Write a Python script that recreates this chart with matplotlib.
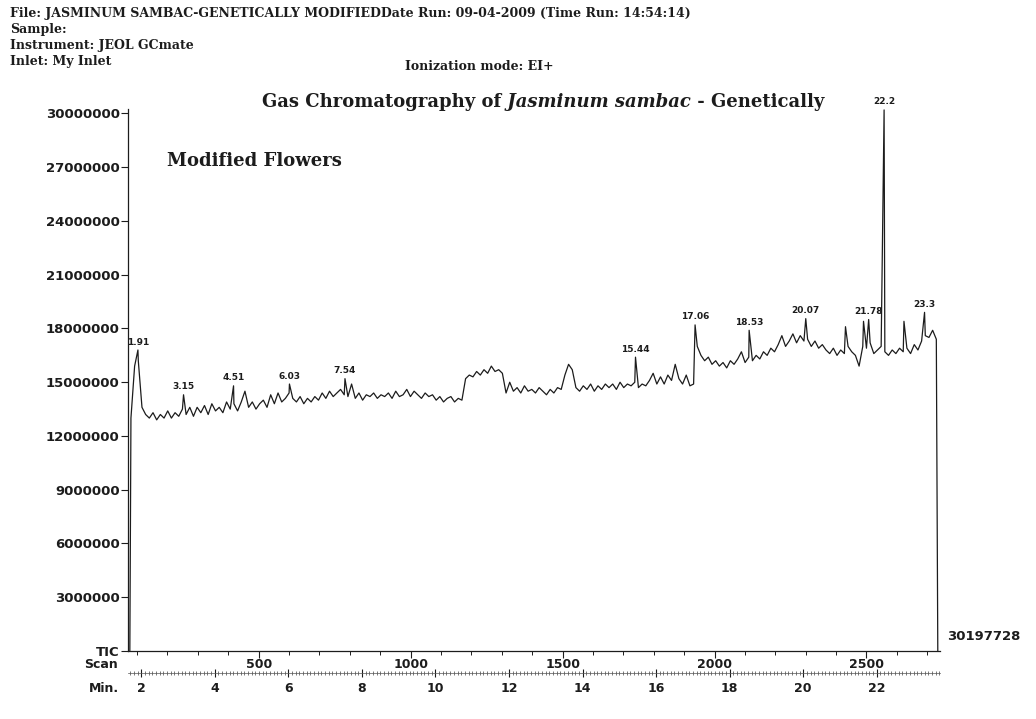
import numpy as np
import matplotlib
matplotlib.use("Agg")
import matplotlib.pyplot as plt
from matplotlib.ticker import FixedLocator, MultipleLocator, NullFormatter

# TIC trace, one reading every 0.1 min (counts in millions)
rt_grid = np.round(1.72 + 0.1 * np.arange(220), 2)
tic_grid = [
    13.0, 15.9, 16.2, 13.6, 13.2, 13.0, 13.3, 12.9, 13.2, 13.0,
    13.4, 13.0, 13.3, 13.1, 13.5, 13.2, 13.6, 13.1, 13.6, 13.3,
    13.7, 13.2, 13.8, 13.4, 13.6, 13.3, 13.9, 13.5, 13.8, 13.4,
    13.9, 14.5, 13.6, 13.9, 13.5, 13.8, 14.0, 13.6, 14.3, 13.8,
    14.4, 13.9, 14.1, 14.4, 14.1, 13.9, 14.2, 13.8, 14.1, 13.9,
    14.2, 14.0, 14.4, 14.1, 14.5, 14.2, 14.4, 14.6, 14.3, 14.2,
    14.9, 14.1, 14.4, 14.0, 14.3, 14.2, 14.4, 14.1, 14.3, 14.2,
    14.4, 14.1, 14.5, 14.2, 14.3, 14.6, 14.2, 14.5, 14.3, 14.1,
    14.4, 14.2, 14.3, 14.0, 14.2, 13.9, 14.1, 14.2, 13.9, 14.1,
    14.0, 15.2, 15.4, 15.3, 15.6, 15.4, 15.7, 15.5, 15.9, 15.6,
    15.7, 15.5, 14.4, 15.0, 14.5, 14.7, 14.4, 14.8, 14.5, 14.6,
    14.4, 14.7, 14.5, 14.3, 14.6, 14.4, 14.7, 14.6, 15.4, 16.0,
    15.7, 14.7, 14.5, 14.8, 14.6, 14.9, 14.5, 14.8, 14.6, 14.9,
    14.7, 14.9, 14.6, 15.0, 14.7, 14.9, 14.8, 15.0, 14.7, 14.9,
    14.8, 15.1, 15.5, 14.9, 15.3, 14.9, 15.4, 15.1, 16.0, 15.2,
    14.9, 15.4, 14.8, 14.9, 17.0, 16.5, 16.2, 16.4, 16.0, 16.2,
    15.9, 16.1, 15.8, 16.2, 16.0, 16.3, 16.7, 16.1, 16.4, 16.2,
    16.5, 16.3, 16.7, 16.5, 16.9, 16.7, 17.1, 17.6, 17.0, 17.3,
    17.7, 17.2, 17.6, 17.3, 17.4, 17.0, 17.3, 16.9, 17.1, 16.8,
    16.6, 16.9, 16.5, 16.8, 16.6, 17.0, 16.7, 16.5, 15.9, 17.0,
    16.9, 17.2, 16.6, 16.8, 17.0, 16.7, 16.5, 16.8, 16.6, 16.9,
    16.7, 16.9, 16.6, 17.1, 16.8, 17.3, 17.6, 17.5, 17.9, 17.4,
]

# labelled peaks: retention time (min) and apex (millions)
peak_rt = [1.91, 3.15, 4.51, 6.03, 7.54, 15.44, 17.06, 18.53, 20.07, 21.78, 22.2, 23.3]
peak_tic = [16.8, 14.3, 14.8, 14.9, 15.2, 16.4, 18.2, 17.9, 18.55, 18.5, 30.197728, 18.9]

# unlabelled spikes
spike_rt = [21.15, 21.64, 22.74]
spike_tic = [18.1, 18.4, 18.4]

# trace starts and ends at zero
edge_rt = [1.69, 23.66]
edge_tic = [0.0, 0.0]

max_tic = 30197728
y_ticks = [0, 3000000, 6000000, 9000000, 12000000, 15000000,
           18000000, 21000000, 24000000, 27000000, 30000000]
scan_labels = [500, 1000, 1500, 2000, 2500]
min_labels = [2, 4, 6, 8, 10, 12, 14, 16, 18, 20, 22]
SCANS_PER_MIN = 121.0
SCAN_ZERO_MIN = 1.06

W, H = 1036, 719
SERIF = "DejaVu Serif"
SANS = "DejaVu Sans"
INK = "#1c1c1c"


def scan_to_min(s):
    return SCAN_ZERO_MIN + np.asarray(s, dtype=float) / SCANS_PER_MIN


def fx(px):
    return px / W


def fy(py):
    return 1 - py / H


rt = np.concatenate([rt_grid, peak_rt, spike_rt, edge_rt])
tic = np.concatenate([tic_grid, peak_tic, spike_tic, edge_tic]) * 1e6
order = np.argsort(rt)
rt, tic = rt[order], tic[order]

fig = plt.figure(figsize=(W / 100, H / 100), dpi=100)
ax = fig.add_axes([fx(128), fy(651), fx(940) - fx(128), (651 - 109) / H])

ax.plot(rt, tic, color=INK, lw=0.9, clip_on=False)
ax.set_xlim(1.64, 23.72)
ax.set_ylim(0, 30.25e6)

for side in ("top", "right"):
    ax.spines[side].set_visible(False)
for side in ("left", "bottom"):
    ax.spines[side].set_linewidth(0.9)
    ax.spines[side].set_color(INK)

# intensity axis
ax.set_yticks(y_ticks)
ax.set_yticklabels(["TIC"] + [str(v) for v in y_ticks[1:]])
ax.tick_params(axis="y", length=5, width=0.8, pad=1, labelsize=9.5,
               colors=INK)
for lab in ax.get_yticklabels():
    lab.set_fontweight("bold")
    lab.set_family(SANS)

# scan axis on the bottom spine
ax.xaxis.set_major_locator(FixedLocator(scan_to_min(scan_labels)))
ax.set_xticklabels([str(s) for s in scan_labels])
ax.xaxis.set_minor_locator(FixedLocator(scan_to_min(np.arange(100, 2800, 100))))
ax.tick_params(axis="x", which="major", length=5, width=0.8, pad=0,
               labelsize=9, colors=INK)
ax.tick_params(axis="x", which="minor", length=3, width=0.7, colors=INK)
for lab in ax.get_xticklabels():
    lab.set_fontweight("bold")

# minute ruler below the scan axis
axm = ax.twiny()
axm.set_xlim(ax.get_xlim())
axm.xaxis.set_ticks_position("bottom")
axm.xaxis.set_label_position("bottom")
axm.spines["bottom"].set_position(("outward", 15.5))
axm.spines["bottom"].set_linewidth(0.5)
axm.spines["bottom"].set_color("#555555")
for side in ("top", "left", "right"):
    axm.spines[side].set_visible(False)
axm.set_xticks(min_labels)
axm.set_xticklabels([str(m) for m in min_labels])
axm.xaxis.set_minor_locator(MultipleLocator(0.1))
axm.xaxis.set_minor_formatter(NullFormatter())
axm.tick_params(axis="x", which="major", direction="inout", length=6,
                width=0.8, pad=4, labelsize=9, colors=INK)
axm.tick_params(axis="x", which="minor", direction="inout", length=3,
                width=0.5, colors="#444444")
for lab in axm.get_xticklabels():
    lab.set_fontweight("bold")

fig.text(fx(118), fy(665), "Scan", ha="right", va="center",
         fontsize=9, fontweight="bold", color=INK)
fig.text(fx(119), fy(689), "Min.", ha="right", va="center",
         fontsize=9, fontweight="bold", color=INK)
fig.text(fx(947), fy(637), str(max_tic), ha="left", va="center",
         fontsize=9.5, fontweight="bold", color=INK)

# peak retention-time labels
for m, v in zip(peak_rt, peak_tic):
    ax.annotate(f"{m:g}", xy=(m, v * 1e6), xytext=(0, 2.5),
                textcoords="offset points", ha="center", va="bottom",
                fontsize=6.5, fontweight="bold", color=INK,
                annotation_clip=False)

# run header
header = [
    (10, 14, "File: JASMINUM SAMBAC-GENETICALLY MODIFIEDDate Run: 09-04-2009 (Time Run: 14:54:14)"),
    (10, 30, "Sample:"),
    (10, 46, "Instrument: JEOL GCmate"),
    (10, 62, "Inlet: My Inlet"),
    (405, 67, "Ionization mode: EI+"),
]
for x, y, s in header:
    fig.text(fx(x), fy(y), s, ha="left", va="center", family=SERIF,
             fontsize=9, fontweight="bold", color=INK)

# chart title, species name in italics
t1 = fig.text(fx(262), fy(102), "Gas Chromatography of", ha="left",
              va="center", family=SERIF, fontsize=13, fontweight="bold",
              color=INK)
t2 = ax.annotate(" Jasminum sambac", xy=(1, 0), xycoords=t1, ha="left",
                 va="bottom", family=SERIF, fontsize=13, fontweight="bold",
                 fontstyle="italic", color=INK)
ax.annotate(" - Genetically", xy=(1, 0), xycoords=t2, ha="left",
            va="bottom", family=SERIF, fontsize=13, fontweight="bold",
            color=INK)
fig.text(fx(167), fy(161), "Modified Flowers", ha="left", va="center",
         family=SERIF, fontsize=13, fontweight="bold", color=INK)

fig.savefig("out.png", dpi=100, facecolor="white")
